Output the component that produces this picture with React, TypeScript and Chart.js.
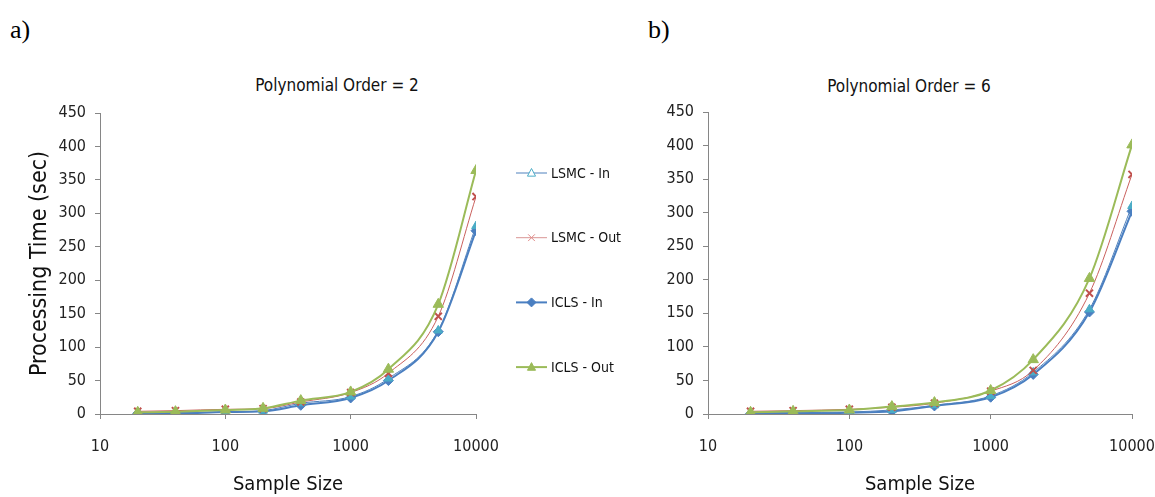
import React, { useEffect, useRef } from 'react';
import { Chart, registerables } from 'chart.js';

Chart.register(...registerables);

// ---------- data ----------
const sampleSizes = [20, 40, 100, 200, 400, 1000, 2000, 5000, 10000];
const xTickValues = [10, 100, 1000, 10000];
const yTickStep = 50;
const yMax = 450;
const seriesNames = ['LSMC - In', 'LSMC - Out', 'ICLS - In', 'ICLS - Out'];

const order2LsmcIn = [2, 2, 3, 5, 16, 26, 53, 125, 281];
const order2LsmcOut = [4, 5, 7, 8, 18, 32, 61, 146, 325];
const order2IclsIn = [1, 1, 3, 4, 13, 24, 50, 123, 274];
const order2IclsOut = [2.5, 3.5, 6, 8.5, 20, 33, 67, 164, 364];

const order6LsmcIn = [1, 2, 3, 6, 13, 27, 62, 156, 310];
const order6LsmcOut = [4, 5, 7, 10, 16, 34, 65, 180, 357];
const order6IclsIn = [0.5, 1, 2, 4, 12, 25, 59, 152, 302];
const order6IclsOut = [2.5, 4, 6, 11, 17, 35, 81, 202, 401];

const titleA = 'Polynomial Order = 2';
const titleB = 'Polynomial Order = 6';
const yTitle = 'Processing Time (sec)';
const xTitle = 'Sample Size';

// ---------- styles ----------
const NARROW = "'Liberation Sans Narrow', 'DejaVu Sans Condensed', 'Liberation Sans', sans-serif";
const AXIS = '#868686';

const seriesStyles = [
  { borderColor: '#4F81BD', borderWidth: 1, pointStyle: 'triangle', pointRadius: 5, pointBackgroundColor: '#4BACC6', pointBorderColor: '#4BACC6', pointBorderWidth: 1, order: 2, legendHollow: true, legendLine: '#4F81BD', legendMarker: '#4BACC6' },
  { borderColor: '#C9605D', borderWidth: 1, pointStyle: 'crossRot', pointRadius: 5, pointBackgroundColor: '#C0504D', pointBorderColor: '#C0504D', pointBorderWidth: 2, order: 1, legendHollow: false, legendLine: '#D99694', legendMarker: '#E08A88' },
  { borderColor: '#4A7FC1', borderWidth: 2, pointStyle: 'rectRot', pointRadius: 5, pointBackgroundColor: '#4A7FC1', pointBorderColor: '#4A7FC1', pointBorderWidth: 1, order: 3, legendHollow: false, legendLine: '#4A7FC1', legendMarker: '#4A7FC1' },
  { borderColor: '#9BBB59', borderWidth: 2, pointStyle: 'triangle', pointRadius: 6, pointBackgroundColor: '#9BBB59', pointBorderColor: '#9BBB59', pointBorderWidth: 1, order: 0, legendHollow: false, legendLine: '#9BBB59', legendMarker: '#9BBB59' },
];

function drawMarker(ctx: CanvasRenderingContext2D, style: string, x: number, y: number, r: number, color: string, hollow: boolean) {
  ctx.save();
  ctx.strokeStyle = color;
  ctx.fillStyle = hollow ? '#ffffff' : color;
  ctx.lineWidth = 1;
  ctx.beginPath();
  if (style === 'triangle') {
    ctx.moveTo(x, y - r);
    ctx.lineTo(x + r * 0.9, y + r * 0.7);
    ctx.lineTo(x - r * 0.9, y + r * 0.7);
    ctx.closePath();
    ctx.fill();
    ctx.stroke();
  } else if (style === 'rectRot') {
    ctx.moveTo(x, y - r);
    ctx.lineTo(x + r, y);
    ctx.lineTo(x, y + r);
    ctx.lineTo(x - r, y);
    ctx.closePath();
    ctx.fill();
    ctx.stroke();
  } else {
    const d = r * 0.75;
    ctx.moveTo(x - d, y - d);
    ctx.lineTo(x + d, y + d);
    ctx.moveTo(x + d, y - d);
    ctx.lineTo(x - d, y + d);
    ctx.stroke();
  }
  ctx.restore();
}

const sideLegendPlugin = {
  id: 'sideLegend',
  afterDraw(chart: any, _args: any, opts: any) {
    if (!opts || !opts.display) return;
    const ctx = chart.ctx as CanvasRenderingContext2D;
    const area = chart.chartArea;
    chart.data.datasets.forEach((ds: any, i: number) => {
      const st = seriesStyles[i];
      const x0 = area.right + 40;
      const y = area.top + 60 + i * 64.7;
      ctx.save();
      ctx.strokeStyle = st.legendLine;
      ctx.lineWidth = st.borderWidth;
      ctx.beginPath();
      ctx.moveTo(x0, y);
      ctx.lineTo(x0 + 31, y);
      ctx.stroke();
      drawMarker(ctx, st.pointStyle, x0 + 15.5, y, 4.5, st.legendMarker, st.legendHollow);
      ctx.fillStyle = '#111';
      ctx.font = `14px ${NARROW}`;
      ctx.textBaseline = 'middle';
      ctx.textAlign = 'left';
      ctx.fillText(ds.label, x0 + 35, y + 1);
      ctx.restore();
    });
  },
};

type PanelProps = {
  series: number[][];
  width: number;
  height: number;
  yAxisWidth: number;
  padTop: number;
  padRight: number;
  showYTitle: boolean;
  showLegend: boolean;
};

function Panel(props: PanelProps) {
  const ref = useRef<HTMLCanvasElement>(null);
  useEffect(() => {
    if (!ref.current) return;
    const datasets = props.series.map((vals, i) => {
      const st = seriesStyles[i];
      return {
        label: seriesNames[i],
        data: sampleSizes.map((x, j) => ({ x, y: vals[j] })),
        borderColor: st.borderColor,
        borderWidth: st.borderWidth,
        pointStyle: st.pointStyle,
        pointRadius: st.pointRadius,
        pointBackgroundColor: st.pointBackgroundColor,
        pointBorderColor: st.pointBorderColor,
        pointBorderWidth: st.pointBorderWidth,
        order: st.order,
        fill: false,
        cubicInterpolationMode: 'monotone' as const,
      };
    });
    const chart = new Chart(ref.current, {
      type: 'line',
      data: { datasets },
      plugins: [sideLegendPlugin],
      options: {
        animation: false,
        responsive: false,
        devicePixelRatio: 1,
        layout: { padding: { top: props.padTop, right: props.padRight, left: 0, bottom: 0 } },
        plugins: {
          legend: { display: false },
          tooltip: { enabled: false },
          title: { display: false },
          sideLegend: { display: props.showLegend },
        } as any,
        scales: {
          x: {
            type: 'logarithmic',
            min: 10,
            max: 10000,
            afterBuildTicks: (scale: any) => {
              scale.ticks = xTickValues.map((v) => ({ value: v }));
            },
            afterFit: (scale: any) => {
              scale.height = 83;
            },
            ticks: {
              autoSkip: false,
              maxRotation: 0,
              padding: 18,
              color: '#222',
              font: { family: NARROW, size: 16 },
              callback: (v: any) => String(v),
            },
            grid: { display: true, drawOnChartArea: false, drawTicks: true, tickLength: 5, color: AXIS },
            border: { display: true, color: AXIS, width: 1 },
            title: {
              display: true,
              text: xTitle,
              color: '#111',
              font: { family: NARROW, size: 20 },
              padding: { top: 14, bottom: 0 },
            },
          },
          y: {
            type: 'linear',
            min: 0,
            max: yMax,
            afterFit: (scale: any) => {
              scale.width = props.yAxisWidth;
            },
            ticks: {
              stepSize: yTickStep,
              padding: 9,
              color: '#222',
              font: { family: NARROW, size: 16 },
            },
            grid: { display: true, drawOnChartArea: false, drawTicks: true, tickLength: 5, color: AXIS },
            border: { display: true, color: AXIS, width: 1 },
            title: {
              display: props.showYTitle,
              text: yTitle,
              color: '#111',
              font: { family: NARROW, size: 23 },
              padding: { top: 26, bottom: 0 },
            },
          },
        },
      } as any,
    });
    return () => chart.destroy();
  }, []);
  return <canvas ref={ref} width={props.width} height={props.height} style={{ width: props.width, height: props.height, display: 'block' }} />;
}

const titleStyle: React.CSSProperties = {
  position: 'absolute',
  width: 300,
  textAlign: 'center',
  fontFamily: NARROW,
  fontSize: 17,
  lineHeight: '20px',
  color: '#111',
  whiteSpace: 'nowrap',
};

const labelStyle: React.CSSProperties = {
  position: 'absolute',
  fontFamily: "'Liberation Serif', 'Times New Roman', serif",
  fontSize: 26,
  lineHeight: '30px',
  color: '#000',
};

export default function App() {
  return (
    <div style={{ position: 'fixed', left: 0, top: 0, width: 1155, height: 497, background: '#fff', overflow: 'hidden' }}>
      <div style={{ ...labelStyle, left: 10, top: 15 }}>a)</div>
      <div style={{ ...labelStyle, left: 648, top: 15 }}>b)</div>
      <div style={{ ...titleStyle, left: 337 - 150, top: 75 }}>{titleA}</div>
      <div style={{ ...titleStyle, left: 909 - 150, top: 76 }}>{titleB}</div>
      <div style={{ position: 'absolute', left: 0, top: 60 }}>
        <Panel
          series={[order2LsmcIn, order2LsmcOut, order2IclsIn, order2IclsOut]}
          width={640}
          height={437}
          yAxisWidth={100}
          padTop={53}
          padRight={164}
          showYTitle={true}
          showLegend={true}
        />
      </div>
      <div style={{ position: 'absolute', left: 640, top: 60 }}>
        <Panel
          series={[order6LsmcIn, order6LsmcOut, order6IclsIn, order6IclsOut]}
          width={540}
          height={437}
          yAxisWidth={68}
          padTop={52}
          padRight={48}
          showYTitle={false}
          showLegend={false}
        />
      </div>
    </div>
  );
}
